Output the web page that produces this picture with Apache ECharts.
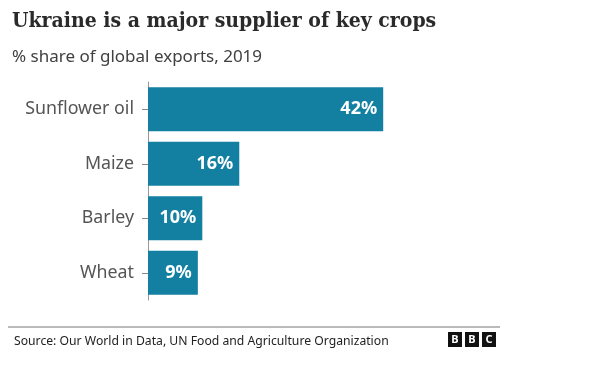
<!DOCTYPE html>
<html><head><meta charset="utf-8">
<script src="https://cdn.jsdelivr.net/npm/echarts@6/dist/echarts.min.js"></script>
<style>html,body{margin:0;padding:0;background:#fff}#c{width:600px;height:367px}</style>
</head><body><div id="c"></div>
<script>
const categories = ['Sunflower oil', 'Maize', 'Barley', 'Wheat'];
const values = [42, 16.3, 9.7, 8.9];
const labels = ['42%', '16%', '10%', '9%'];

const chart = echarts.init(document.getElementById('c'));
chart.setOption({
  animation: false,
  backgroundColor: '#fff',
  title: [
    { text: 'Ukraine is a major supplier of key crops', left: 7, top: 6,
      textStyle: { fontFamily: "'DejaVu Serif Condensed','DejaVu Serif'", fontWeight: 'bold', fontSize: 21, color: '#2a2a2a' } },
    { text: '% share of global exports, 2019', left: 7, top: 44,
      textStyle: { fontFamily: 'Noto Sans', fontWeight: 'normal', fontSize: 17, color: '#404040' } },
    { text: 'Source: Our World in Data, UN Food and Agriculture Organization', left: 9, top: 331,
      textStyle: { fontFamily: 'Noto Sans', fontWeight: 'normal', fontSize: 12.2, color: '#222' } }
  ],
  grid: { left: 148, right: 172, top: 82, bottom: 67 },
  xAxis: { type: 'value', min: 0, max: 50, show: false },
  yAxis: {
    type: 'category', data: categories, inverse: true,
    axisLine: { show: true, lineStyle: { color: '#999', width: 1 } },
    axisTick: { show: true, alignWithLabel: true, length: 6, lineStyle: { color: '#888' } },
    axisLabel: { fontFamily: 'Noto Sans', fontSize: 17.8, color: '#555', margin: 14 }
  },
  series: [{
    type: 'bar', data: values, barCategoryGap: '19%',
    itemStyle: { color: '#1380A1' },
    label: { show: true, position: 'insideRight', distance: 6,
      formatter: p => labels[p.dataIndex],
      fontFamily: 'Noto Sans', fontWeight: 'bold', fontSize: 18, color: '#fff' }
  }],
  graphic: [
    { type: 'line', shape: { x1: 8, y1: 327, x2: 500, y2: 327 }, style: { stroke: '#777', lineWidth: 1 } },
    ...['B', 'B', 'C'].map((t, i) => ({
      type: 'group', left: 448 + i * 17, top: 332,
      children: [
        { type: 'rect', shape: { x: 0, y: 0, width: 14, height: 15 }, style: { fill: '#111' } },
        { type: 'text', x: 7, y: 7.5, style: { text: t, fill: '#fff', fontFamily: 'Noto Sans', fontWeight: 'bold', fontSize: 11, align: 'center', verticalAlign: 'middle' } }
      ]
    }))
  ]
});
</script></body></html>
